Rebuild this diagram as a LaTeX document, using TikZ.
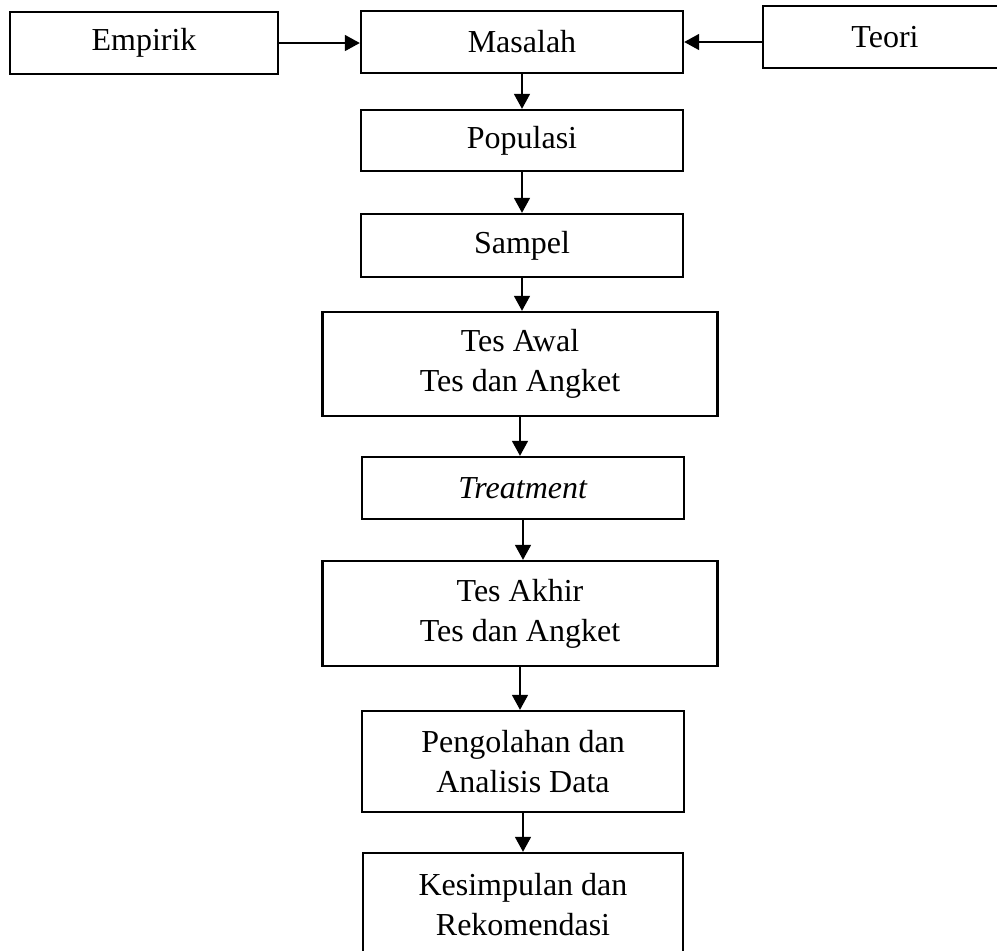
\documentclass[tikz,border=0pt]{standalone}
\usepackage{fontspec}
\setmainfont{Liberation Serif}
\usepackage{tikz}
\usetikzlibrary{arrows.meta}

\begin{document}
\begin{tikzpicture}[x=0.5pt, y=-0.5pt,
    every node/.style={draw, line width=1.2pt, align=center, inner sep=0pt,
      font=\fontsize{16}{20}\selectfont},
    arr/.style={-{Triangle[width=8pt, length=7.5pt]}, line width=0.85pt}]

    \clip (0, 0) rectangle (997, 950);

    \node [minimum width=134pt, minimum height=31pt] (empirik) at (144, 43) {Empirik};
    \node [minimum width=161pt, minimum height=31pt] (masalah) at (522, 42) {Masalah};
    \node [minimum width=122pt, minimum height=31pt] (teori) at (885, 37) {Teori};

    \node [minimum width=161pt, minimum height=30.5pt] (populasi) at (522, 140.5) {Populasi};
    \node [minimum width=161pt, minimum height=31.5pt] (sampel) at (522, 245.5) {Sampel};
    \node [minimum width=197.5pt, minimum height=52pt] (tesawal) at (520, 364) {Tes Awal\\Tes dan Angket};
    \node [minimum width=161pt, minimum height=31pt] (treatment) at (523, 488) {\textit{Treatment}};
    \node [minimum width=197.5pt, minimum height=52.5pt] (tesakhir) at (520, 613.5) {Tes Akhir\\Tes dan Angket};
    \node [minimum width=161pt, minimum height=50.5pt] (olah) at (523, 761.5) {Pengolahan dan\\Analisis Data};
    \node [minimum width=160pt, minimum height=52pt] (simpul) at (523, 905) {Kesimpulan dan\\Rekomendasi};

    \draw [arr] (empirik.east) -- (empirik.east -| masalah.west);
    \draw [arr] (masalah.east -| teori.west) -- (masalah.east);

    \draw [arr] (masalah.south) -- (populasi.north);
    \draw [arr] (populasi.south) -- (populasi.south |- sampel.north);
    \draw [arr] (sampel.south) -- (sampel.south |- tesawal.north);
    \draw [arr] (tesawal.south) -- (tesawal.south |- treatment.north);
    \draw [arr] (treatment.south) -- (treatment.south |- tesakhir.north);
    \draw [arr] (tesakhir.south) -- (tesakhir.south |- olah.north);
    \draw [arr] (olah.south) -- (olah.south |- simpul.north);

\end{tikzpicture}
\end{document}
